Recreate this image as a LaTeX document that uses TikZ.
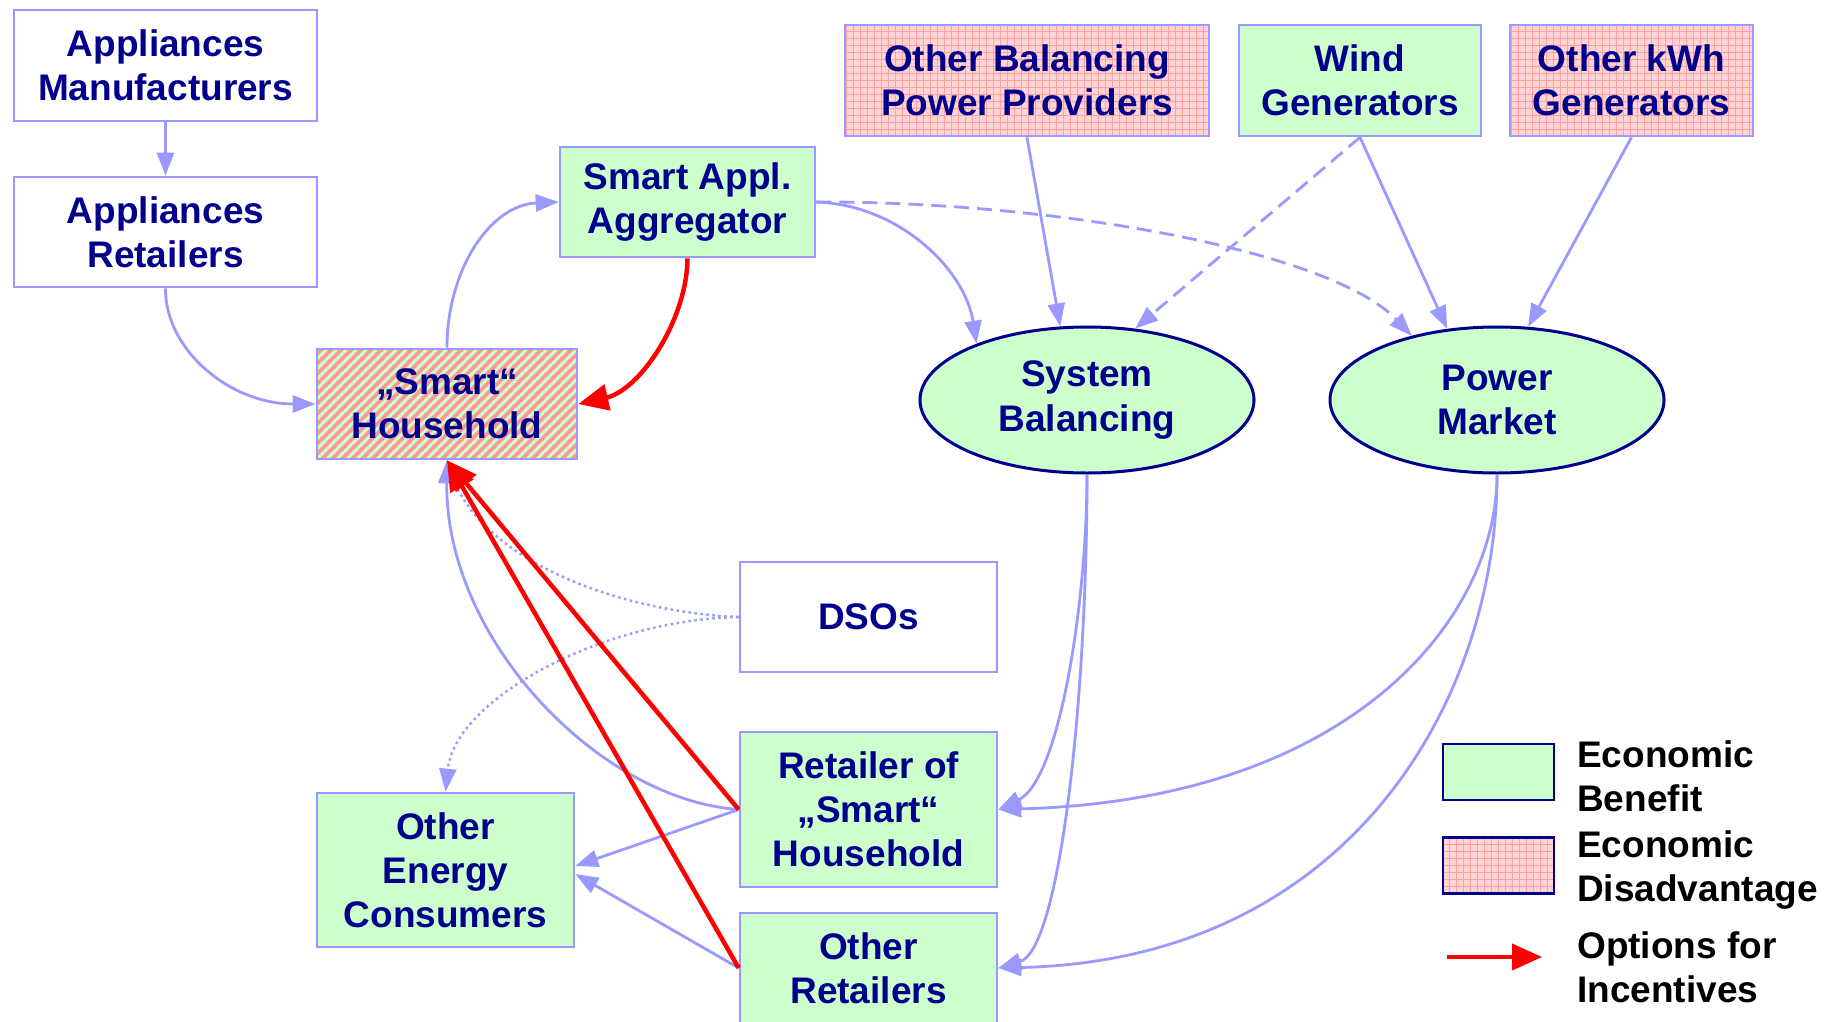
\documentclass[tikz,border=0pt]{standalone}
\usepackage{fontspec}
\setmainfont{Liberation Sans}
\usetikzlibrary{shapes.geometric,arrows.meta,calc}
\definecolor{lav}{HTML}{9999FF}
\definecolor{navy}{RGB}{0,0,140}
\definecolor{lgreen}{HTML}{CCFFCC}
\definecolor{pinkbg}{HTML}{FFD4D4}
\definecolor{pinkline}{HTML}{FF9F9F}
\definecolor{hpink}{HTML}{FF9999}
\tikzset{
  txt/.style={font=\fontsize{37}{44}\selectfont\bfseries},
  box/.style={draw=lav, line width=2.6pt, rectangle, inner sep=0pt, align=center, text=navy, txt},
  gbox/.style={box, fill=lgreen},
  gridfill/.style={fill=pinkbg, path picture={
      \draw[pinkline, line width=0.9pt] (path picture bounding box.south west) grid[step=7pt] (path picture bounding box.north east);}},
  pbox/.style={box, gridfill},
  hbox/.style={box, fill=hpink, path picture={
      \foreach \k in {0,10,...,430} {
        \draw[lgreen, line width=3pt] ([xshift=\k pt-160pt]path picture bounding box.south west) -- ++(160pt,160pt);
      }}},
  ell/.style={ellipse, draw=navy, line width=3pt, fill=lgreen, inner sep=0pt, align=center, text=navy, txt},
  legbox/.style={rectangle, draw=navy, line width=2.6pt, inner sep=0pt, minimum width=111pt, minimum height=56pt},
  legtext/.style={anchor=west, inner sep=0pt, align=left, text=black, txt},
  conn/.style={draw=lav, line width=2.8pt, -{Triangle[length=23pt,width=17pt]}},
  dconn/.style={conn, dash pattern=on 15pt off 8pt},
  tconn/.style={conn, line width=2.5pt, dash pattern=on 2.5pt off 3.5pt},
  rconn/.style={draw=red, line width=4.5pt, -{Triangle[length=30pt,width=26pt]}},
}
\begin{document}
\begin{tikzpicture}[x=1pt,y=-1pt]
\useasboundingbox (0,0) rectangle (1836,1022);
\fill[white] (0,0) rectangle (1836,1022);

% nodes
\node[box, minimum width=303pt, minimum height=111pt] (am) at (165.5,65.5) {Appliances\\Manufacturers};
\node[box, minimum width=303pt, minimum height=110pt] (ar) at (165.5,232) {Appliances\\Retailers};
\node[gbox, minimum width=255pt, minimum height=110pt] (agg) at (687.5,202) {Smart Appl.\\Aggregator};
\node[hbox, minimum width=260pt, minimum height=110pt] (sh) at (447,404) {„Smart“\\Household};
\node[pbox, minimum width=364pt, minimum height=111pt] (obp) at (1027,80.5) {Other Balancing\\Power Providers};
\node[gbox, minimum width=242pt, minimum height=111pt] (wind) at (1360,80.5) {Wind\\Generators};
\node[pbox, minimum width=243pt, minimum height=111pt] (okwh) at (1631.5,80.5) {Other kWh\\Generators};
\node[ell, minimum width=334pt, minimum height=146pt] (sb) at (1087,400) {System\\Balancing};
\node[ell, minimum width=334pt, minimum height=146pt] (pm) at (1497,400) {Power\\Market};
\node[box, minimum width=257pt, minimum height=110pt] (dso) at (868.5,617) {DSOs};
\node[gbox, minimum width=257pt, minimum height=155pt] (rsh) at (868.5,809.5) {Retailer of\\„Smart“\\Household};
\node[gbox, minimum width=257pt, minimum height=110pt] (oret) at (868.5,968) {Other\\Retailers};
\node[gbox, minimum width=257pt, minimum height=154pt] (oec) at (445.5,870) {Other\\Energy\\Consumers};

% legend
\node[legbox, fill=lgreen] (lg) at (1498.5,772) {};
\node[legbox, gridfill] (lp) at (1498.5,865.5) {};
\node[legtext] (t1) at (1577,776) {Economic\\Benefit};
\node[legtext] (t2) at (1577,870) {Economic\\Disadvantage};
\node[legtext] (t3) at (1577,967.5) {Options for\\Incentives};
\coordinate (la) at (1447,957);
\coordinate (lb) at (1542,957);

% connectors
\draw[conn] (am) -- (ar);
\draw[conn] (ar.south) .. controls (165,350) and (230,404) .. (sh.west);
\draw[conn] (sh.north) .. controls (447,270) and (490,205) .. (agg.west);
\draw[conn] (agg.east) .. controls (900,205) and (965,270) .. (sb.153);
\draw[dconn] (agg.east) .. controls (1050,201) and (1330,250) .. (pm.143);
\draw[conn] (obp.south) -- (sb.110);
\draw[dconn] (wind.south) -- (sb.56);
\draw[conn] (wind.south) -- (pm.125);
\draw[conn] (okwh.south) -- (pm.67);
\draw[conn] (sb.south) .. controls (1087,600) and (1060,780) .. (rsh.east);
\draw[conn] (sb.south) .. controls (1087,700) and (1060,950) .. (oret.east);
\draw[conn] (pm.south) .. controls (1497,620) and (1350,800) .. (rsh.east);
\draw[conn] (pm.south) .. controls (1497,700) and (1350,960) .. (oret.east);
\draw[conn] (rsh.west) .. controls (600,800) and (445,640) .. (sh.south);
\draw[conn] (rsh.west) -- ($(oec.east)+(0,-4)$);
\draw[conn] (oret.west) -- ($(oec.east)+(0,4)$);
\draw[tconn, -] (dso.west) .. controls (620,612) and (470,560) .. (sh.south);
\draw[tconn] (dso.west) .. controls (600,620) and (455,700) .. (oec.north);

\draw[rconn] (agg.south) .. controls (687,320) and (640,390) .. (sh.east);
\draw[rconn] (rsh.west) -- (sh.south);
\draw[rconn] (oret.west) -- (sh.south);
\draw[rconn, line width=4pt] (la) -- (lb);
\end{tikzpicture}
\end{document}
